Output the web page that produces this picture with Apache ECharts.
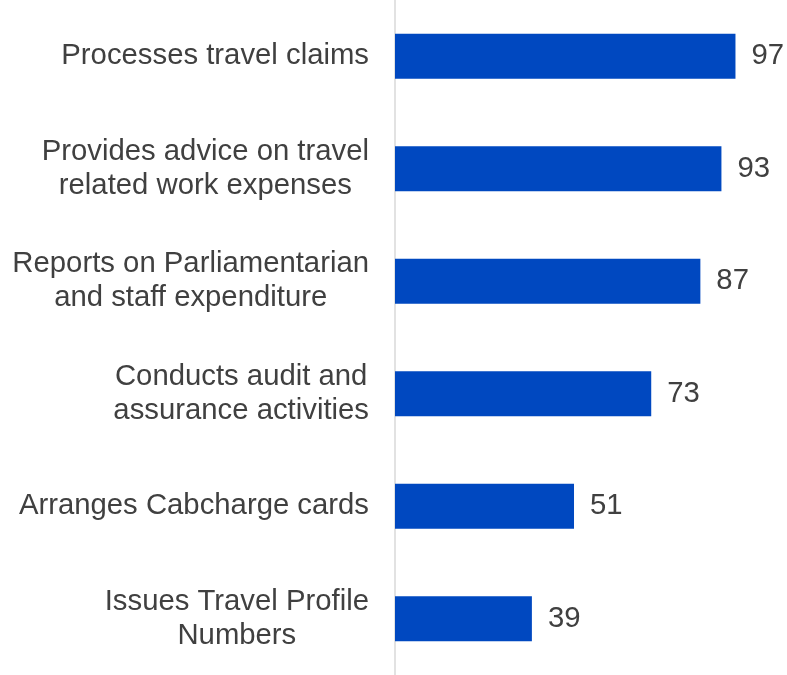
<!DOCTYPE html>
<html>
<head>
<meta charset="utf-8">
<script src="https://cdn.jsdelivr.net/npm/echarts@6/dist/echarts.min.js"></script>
<style>
  html, body { margin: 0; padding: 0; background: #ffffff; }
  #chart { width: 787px; height: 675px; }
</style>
</head>
<body>
<div id="chart"></div>
<script>
// Services provided, shown top to bottom
const categories = [
  'Processes travel claims',
  'Provides advice on travel\nrelated work expenses',
  'Reports on Parliamentarian\nand staff expenditure',
  'Conducts audit and\nassurance activities',
  'Arranges Cabcharge cards',
  'Issues Travel Profile\nNumbers'
];
const values = [97, 93, 87, 73, 51, 39];

const textColor = '#404040';
const fontFamily = '"Liberation Sans", Arial, sans-serif';

const chart = echarts.init(document.getElementById('chart'), null, { renderer: 'canvas' });
chart.setOption({
  animation: false,
  backgroundColor: '#ffffff',
  grid: { left: 395, top: -1, width: 351, height: 682, containLabel: false },
  xAxis: {
    type: 'value',
    min: 0,
    max: 100,
    show: false
  },
  yAxis: {
    type: 'category',
    data: categories,
    inverse: true,
    axisLine: { show: true, lineStyle: { color: '#d9d9d9', width: 1.5 } },
    axisTick: { show: false },
    splitLine: { show: false },
    axisLabel: {
      margin: 26,
      align: 'right',
      formatter: (v) => '{c|' + v.split('\n').join('}\n{c|') + '}',
      rich: {
        c: {
          align: 'center',
          color: textColor,
          fontFamily: fontFamily,
          fontSize: 29.3,
          lineHeight: 34
        }
      }
    }
  },
  series: [{
    type: 'bar',
    data: values,
    barWidth: 45,
    itemStyle: { color: '#0048c0' },
    label: {
      show: true,
      position: 'right',
      distance: 16,
      color: textColor,
      fontFamily: fontFamily,
      fontSize: 29.3
    }
  }]
});
</script>
</body>
</html>
